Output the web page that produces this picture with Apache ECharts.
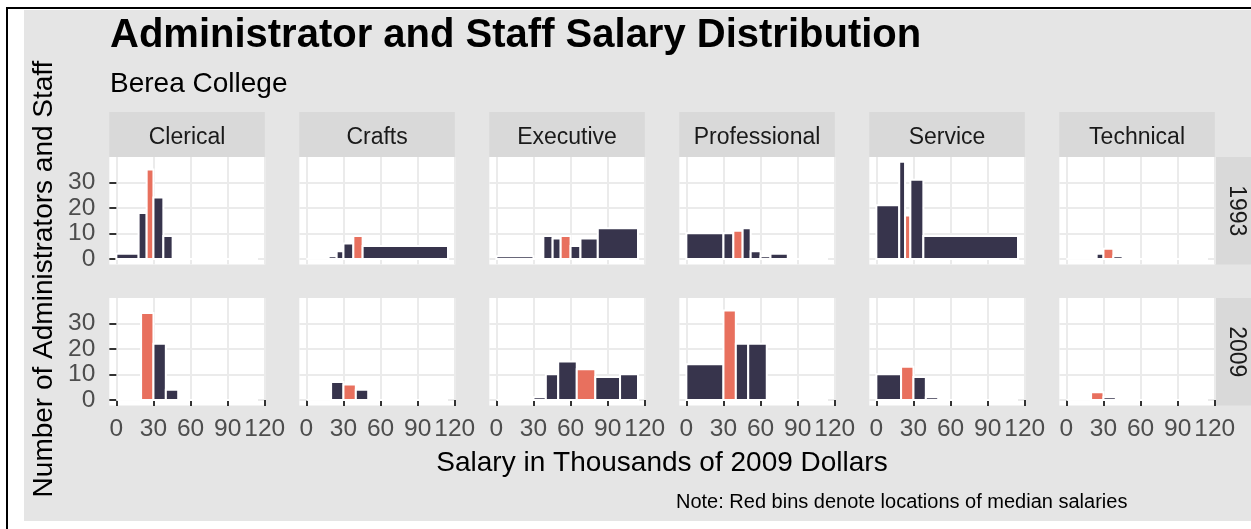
<!DOCTYPE html>
<html>
<head>
<meta charset="utf-8">
<title>Administrator and Staff Salary Distribution</title>
<script src="https://cdn.jsdelivr.net/npm/echarts@6/dist/echarts.min.js"></script>
<style>
  html, body { margin: 0; padding: 0; background: #ffffff; }
  #frameTop { position: absolute; left: 6px; top: 7px; width: 1245px; height: 2px; background: #000; }
  #frameLeft { position: absolute; left: 6px; top: 7px; width: 2px; height: 522px; background: #000; }
  #plotBg { position: absolute; left: 24px; top: 10px; width: 1227px; height: 511px; background: #e5e5e5; }
  #chart { position: absolute; left: 0; top: 0; width: 1251px; height: 529px; }
</style>
</head>
<body>
<div id="frameTop"></div>
<div id="frameLeft"></div>
<div id="plotBg"></div>
<div id="chart"></div>
<script>
// facet labels and ticks
var categories = ['Clerical', 'Crafts', 'Executive', 'Professional', 'Service', 'Technical'];
var years = ['1993', '2009'];
var xTicks = [0, 30, 60, 90, 120];
var yTicks = [0, 10, 20, 30];

// bin edges (thousands of 2009 dollars) and counts
var clerical1993Edges = [0, 18, 24.5, 30, 38, 45.5, 114.5];
var clerical1993Counts = [2, 18, 35, 24, 9, 0];
var crafts1993Edges = [0, 18, 24.5, 30, 38, 45.5, 114.5];
var crafts1993Counts = [0, 1, 3, 6, 9, 5];
var executive1993Edges = [0, 30, 38, 45.5, 52, 60, 68, 82, 114.5];
var executive1993Counts = [1, 0, 9, 8, 9, 5, 8, 12];
var professional1993Edges = [0, 30, 38, 45.5, 52, 60, 68, 82, 114.5];
var professional1993Counts = [10, 10, 11, 12, 3, 1, 2, 0];
var service1993Edges = [0, 18.5, 23.2, 27.5, 38, 114.5];
var service1993Counts = [21, 38, 17, 31, 9];
var technical1993Edges = [0, 24.5, 30, 38, 45.5, 114.5];
var technical1993Counts = [0, 2, 4, 1, 0];

var clerical2009Edges = [0, 20, 30, 40, 50, 114.5];
var clerical2009Counts = [0, 34, 22, 4, 0];
var crafts2009Edges = [0, 20, 30, 40, 50, 114.5];
var crafts2009Counts = [0, 7, 6, 4, 0];
var executive2009Edges = [0, 30, 40, 50, 65, 80, 100, 114.5];
var executive2009Counts = [0, 1, 10, 15, 12, 9, 10];
var professional2009Edges = [0, 30, 40, 50, 65, 114.5];
var professional2009Counts = [14, 35, 22, 22, 0];
var service2009Edges = [0, 20, 30, 40, 50, 114.5];
var service2009Counts = [10, 13, 9, 1, 0];
var technical2009Edges = [0, 20, 30, 40, 114.5];
var technical2009Counts = [0, 3, 1, 0];

// index of the bin holding the median (drawn red)
var medianBins1993 = [2, 4, 4, 2, 2, 2];
var medianBins2009 = [1, 2, 4, 1, 1, 1];

var edges = [
  [clerical1993Edges, crafts1993Edges, executive1993Edges, professional1993Edges, service1993Edges, technical1993Edges],
  [clerical2009Edges, crafts2009Edges, executive2009Edges, professional2009Edges, service2009Edges, technical2009Edges]
];
var counts = [
  [clerical1993Counts, crafts1993Counts, executive1993Counts, professional1993Counts, service1993Counts, technical1993Counts],
  [clerical2009Counts, crafts2009Counts, executive2009Counts, professional2009Counts, service2009Counts, technical2009Counts]
];
var medians = [medianBins1993, medianBins2009];

var darkColor = '#37344c';
var redColor = '#e8705e';
var fontFamily = '"Liberation Sans", Arial, sans-serif';

// panel geometry
var panelLeft = 109.3, panelStep = 190, panelW = 155.5;
var rowTop = [157, 298], panelH = 107.5;

function renderBin(params, api) {
  var x0 = api.value(0), x1 = api.value(1), n = api.value(2), red = api.value(3);
  var a = api.coord([x0, 0]);
  var b = api.coord([x1, n]);
  if (n === 0) {
    // empty bins only leave their white outline on the zero line
    return {
      type: 'line',
      shape: { x1: a[0], y1: a[1], x2: b[0], y2: a[1] },
      style: { stroke: '#ffffff', lineWidth: 2 }
    };
  }
  return {
    type: 'rect',
    shape: { x: a[0], y: b[1], width: b[0] - a[0], height: a[1] - b[1] },
    style: { fill: red ? redColor : darkColor, stroke: '#ffffff', lineWidth: 2 }
  };
}

var grids = [], xAxes = [], yAxes = [], series = [], graphics = [];

for (var r = 0; r < 2; r++) {
  for (var c = 0; c < 6; c++) {
    var i = grids.length;
    grids.push({
      left: panelLeft + panelStep * c, top: rowTop[r], width: panelW, height: panelH,
      show: true, backgroundColor: '#ffffff', borderWidth: 0
    });
    xAxes.push({
      type: 'value', gridIndex: i, min: -5.7, max: 120,
      axisLine: { show: false },
      axisTick: { show: r === 1, customValues: xTicks, length: 6, lineStyle: { color: '#333333', width: 2 } },
      axisLabel: { show: r === 1, customValues: xTicks, fontSize: 24.5, fontFamily: fontFamily, color: '#4d4d4d', margin: 11 },
      splitLine: { show: true, lineStyle: { color: '#ebebeb', width: 2 } }
    });
    yAxes.push({
      type: 'value', gridIndex: i, min: -2.2, max: 39.9,
      axisLine: { show: false },
      axisTick: { show: c === 0, customValues: yTicks, length: 7, lineStyle: { color: '#333333', width: 2 } },
      axisLabel: { show: c === 0, customValues: yTicks, fontSize: 24.5, fontFamily: fontFamily, color: '#4d4d4d', margin: 14 },
      splitLine: { show: true, lineStyle: { color: '#ebebeb', width: 2 } }
    });
    var e = edges[r][c], n = counts[r][c], data = [];
    for (var k = 0; k < n.length; k++) {
      data.push([e[k], e[k + 1], n[k], k === medians[r][c] ? 1 : 0]);
    }
    series.push({
      type: 'custom', xAxisIndex: i, yAxisIndex: i,
      renderItem: renderBin, data: data, silent: true,
      encode: { x: [0, 1], y: 2 }
    });
  }
}

// strips on top
for (var c2 = 0; c2 < 6; c2++) {
  var sx = panelLeft + panelStep * c2;
  graphics.push({ type: 'rect', shape: { x: sx, y: 112, width: panelW, height: 45 }, style: { fill: '#d9d9d9' } });
  graphics.push({
    type: 'text', x: sx + panelW / 2, y: 137.5,
    style: { text: categories[c2], font: '23px ' + fontFamily, fill: '#1a1a1a', align: 'center', verticalAlign: 'middle', textAlign: 'center', textVerticalAlign: 'middle' }
  });
}
// strips on the right
for (var r2 = 0; r2 < 2; r2++) {
  graphics.push({ type: 'rect', shape: { x: 1214.8, y: rowTop[r2], width: 45, height: panelH }, style: { fill: '#d9d9d9' } });
  graphics.push({
    type: 'text', x: 1236, y: rowTop[r2] + panelH / 2, rotation: -Math.PI / 2,
    style: { text: years[r2], font: '23px ' + fontFamily, fill: '#1a1a1a', align: 'center', verticalAlign: 'middle', textAlign: 'center', textVerticalAlign: 'middle' }
  });
}

// titles and axis titles
graphics.push({
  type: 'text', x: 110, y: 36,
  style: { text: 'Administrator and Staff Salary Distribution', font: 'bold 40px ' + fontFamily, fill: '#000000', align: 'left', verticalAlign: 'middle', textAlign: 'left', textVerticalAlign: 'middle' }
});
graphics.push({
  type: 'text', x: 110, y: 84.5,
  style: { text: 'Berea College', font: '28px ' + fontFamily, fill: '#000000', align: 'left', verticalAlign: 'middle', textAlign: 'left', textVerticalAlign: 'middle' }
});
graphics.push({
  type: 'text', x: 662, y: 463,
  style: { text: 'Salary in Thousands of 2009 Dollars', font: '28px ' + fontFamily, fill: '#000000', align: 'center', verticalAlign: 'middle', textAlign: 'center', textVerticalAlign: 'middle' }
});
graphics.push({
  type: 'text', x: 44, y: 279, rotation: Math.PI / 2,
  style: { text: 'Number of Administrators and Staff', font: '28px ' + fontFamily, fill: '#000000', align: 'center', verticalAlign: 'middle', textAlign: 'center', textVerticalAlign: 'middle' }
});
graphics.push({
  type: 'text', x: 676, y: 502,
  style: { text: 'Note: Red bins denote locations of median salaries', font: '20px ' + fontFamily, fill: '#000000', align: 'left', verticalAlign: 'middle', textAlign: 'left', textVerticalAlign: 'middle' }
});

var myChart = echarts.init(document.getElementById('chart'), null, { renderer: 'canvas' });
myChart.setOption({
  animation: false,
  grid: grids,
  xAxis: xAxes,
  yAxis: yAxes,
  series: series,
  graphic: { elements: graphics }
});
</script>
</body>
</html>
